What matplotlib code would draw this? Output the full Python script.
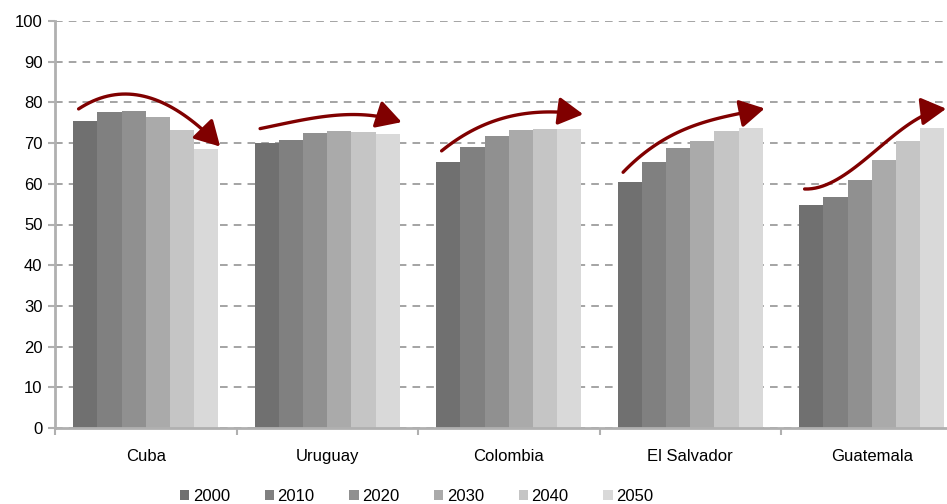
import numpy as np
import matplotlib.pyplot as plt
from matplotlib.path import Path
from matplotlib.patches import FancyArrowPatch

plt.rcParams['font.family'] = ['Liberation Sans', 'DejaVu Sans']

# Esperanza de vida al nacer por país y década
paises = ['Cuba', 'Uruguay', 'Colombia', 'El Salvador', 'Guatemala']
anios = ['2000', '2010', '2020', '2030', '2040', '2050']
v2000 = [75.4, 70.0, 65.4, 60.4, 54.8]
v2010 = [77.6, 70.8, 69.0, 65.4, 56.8]
v2020 = [78.0, 72.5, 71.7, 68.8, 61.0]
v2030 = [76.4, 73.0, 73.2, 70.5, 65.8]
v2040 = [73.2, 72.7, 73.5, 73.0, 70.5]
v2050 = [68.5, 72.2, 73.5, 73.7, 73.7]
series = [v2000, v2010, v2020, v2030, v2040, v2050]
colores = ['#707070', '#808080', '#909090', '#aaaaaa', '#c5c5c5', '#d9d9d9']

fig = plt.figure(figsize=(9.47, 5.04), dpi=100)
ax = fig.add_axes([55/947, 1 - 428/504, 1 - 55/947, (428 - 21)/504])

x = np.arange(len(paises))
ancho = 0.8 / len(anios)
for i, (vals, col) in enumerate(zip(series, colores)):
    ax.bar(x - 0.4 + ancho * (i + 0.5), vals, ancho, color=col, label=anios[i], zorder=2)

# flechas de tendencia: curva suave sobre los topes de las barras
for g in range(len(paises)):
    xb = x[g] - 0.4 + ancho * (np.arange(len(anios)) + 0.5)
    yb = np.array([s[g] for s in series]) + 4.0
    coef = np.polyfit(xb, yb, 3)
    xs = np.linspace(x[g] - 0.37, x[g] + 0.41, 40)
    ys = np.polyval(coef, xs)
    flecha = FancyArrowPatch(path=Path(np.column_stack([xs, ys])),
                             arrowstyle='-|>,head_length=0.8,head_width=0.45',
                             mutation_scale=19, color='#800000', lw=2.4,
                             shrinkA=0, shrinkB=0, zorder=3)
    ax.add_patch(flecha)

ax.set_yticks(np.arange(0, 101, 10))
ax.yaxis.grid(True, color='#8c8c8c', linestyle=(0, (5, 4)), linewidth=1.1, zorder=0)
ax.set_axisbelow(True)

# separadores de categoría en el eje x, etiquetas centradas
ax.set_xticks(np.arange(-0.5, 5, 1.0))
ax.set_xticklabels([])
ax.set_xticks(x, minor=True)
ax.set_xticklabels(paises, minor=True)
ax.tick_params(axis='x', which='minor', length=0, pad=15, labelsize=12)
ax.tick_params(axis='x', which='major', length=5, color='#b0b0b0', width=1.5)
ax.tick_params(axis='y', length=5, color='#b0b0b0', width=1.5, labelsize=12, pad=4)

ax.set_ylim(0, 100)
ax.set_xlim(-0.5, -0.5 + 892 / 181.5)

for lado in ['top', 'right']:
    ax.spines[lado].set_visible(False)
for lado in ['left', 'bottom']:
    ax.spines[lado].set_color('#b0b0b0')
    ax.spines[lado].set_linewidth(2)

fig.legend(loc='center', bbox_to_anchor=(0.44, 0.015), ncol=6, frameon=False,
           fontsize=12, handlelength=0.55, handleheight=0.55, handletextpad=0.2,
           columnspacing=2.1, borderpad=0.1)

fig.savefig('out.png', dpi=100)
